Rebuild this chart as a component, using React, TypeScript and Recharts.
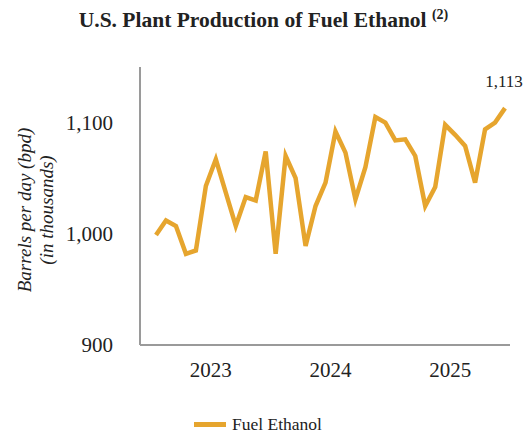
import React from "react";
import { LineChart, Line, XAxis, YAxis, LabelList } from "recharts";

// Monthly U.S. plant production of fuel ethanol, thousand barrels per day
const months: string[] = [
  "Aug 2022", "Sep 2022", "Oct 2022", "Nov 2022", "Dec 2022",
  "Jan 2023", "Feb 2023", "Mar 2023", "Apr 2023", "May 2023", "Jun 2023", "Jul 2023",
  "Aug 2023", "Sep 2023", "Oct 2023", "Nov 2023", "Dec 2023",
  "Jan 2024", "Feb 2024", "Mar 2024", "Apr 2024", "May 2024", "Jun 2024", "Jul 2024",
  "Aug 2024", "Sep 2024", "Oct 2024", "Nov 2024", "Dec 2024",
  "Jan 2025", "Feb 2025", "Mar 2025", "Apr 2025", "May 2025", "Jun 2025", "Jul 2025",
];

const ethanol: number[] = [
  999, 1012, 1007, 982, 985, 1043, 1067, 1037, 1007, 1033, 1030, 1074,
  982, 1070, 1050, 989, 1025, 1046, 1092, 1073, 1031, 1060, 1105, 1100,
  1084, 1085, 1070, 1025, 1042, 1098, 1089, 1079, 1046, 1094, 1100, 1113,
];

const yearTicks: string[] = ["Jan 2023", "Jan 2024", "Jan 2025"];
const yTicks: number[] = [900, 1000, 1100];

const data = months.map((m, i) => ({ month: m, ethanol: ethanol[i] }));

const LINE_COLOR = "#E6A52E";
const AXIS_COLOR = "#9a9a9a";
const FONT = "'Liberation Serif', 'Times New Roman', serif";

const fmt = (v: number) => v.toLocaleString("en-US");

const LastLabel = (props: any) => {
  const { x, y, value, index } = props;
  if (index !== data.length - 1) return null;
  return (
    <text
      x={x - 1}
      y={y - 21}
      textAnchor="middle"
      fontFamily={FONT}
      fontSize={17}
      fill="#222"
    >
      {fmt(value)}
    </text>
  );
};

const YearTick = (props: any) => {
  const { x, y, payload } = props;
  return (
    <text
      x={x + 5}
      y={y}
      dy="0.71em"
      textAnchor="middle"
      fontFamily={FONT}
      fontSize={21}
      fill="#222"
    >
      {String(payload.value).slice(4)}
    </text>
  );
};

export default function App() {
  return (
    <div
      style={{
        position: "absolute",
        left: 0,
        top: 0,
        width: 527,
        height: 437,
        background: "#fff",
        fontFamily: FONT,
      }}
    >
      <div
        style={{
          position: "absolute",
          top: 7,
          left: 0,
          width: 527,
          textAlign: "center",
          fontWeight: "bold",
          fontSize: 21.5,
          color: "#222",
          whiteSpace: "nowrap",
        }}
      >
        U.S. Plant Production of Fuel Ethanol{" "}
        <sup style={{ fontSize: 14 }}>(2)</sup>
      </div>

      <div
        style={{
          position: "absolute",
          left: 36,
          top: 210,
          transform: "translate(-50%, -50%) rotate(-90deg)",
          textAlign: "center",
          fontStyle: "italic",
          fontSize: 19,
          lineHeight: "22px",
          color: "#222",
          whiteSpace: "nowrap",
        }}
      >
        Barrels per day (bpd)
        <br />
        (in thousands)
      </div>

      <LineChart
        width={527}
        height={437}
        data={data}
        margin={{ top: 67, right: 17, bottom: 52, left: 0 }}
        style={{ position: "absolute", left: 0, top: 0 }}
      >
        <XAxis
          dataKey="month"
          ticks={yearTicks}
          interval={0}
          tick={<YearTick />}
          tickLine={false}
          tickSize={0}
          tickMargin={17}
          axisLine={{ stroke: AXIS_COLOR, strokeWidth: 2 }}
          padding={{ left: 16, right: 5 }}
          height={40}
        />
        <YAxis
          domain={[900, 1150]}
          ticks={yTicks}
          width={140}
          tickLine={false}
          tickSize={0}
          tickMargin={27}
          tickFormatter={fmt}
          axisLine={{ stroke: AXIS_COLOR, strokeWidth: 2 }}
          tick={{ fontFamily: FONT, fontSize: 21, fill: "#222" }}
        />
        <Line
          type="linear"
          dataKey="ethanol"
          stroke={LINE_COLOR}
          strokeWidth={4.5}
          strokeLinejoin="miter"
          dot={false}
          activeDot={false}
          isAnimationActive={false}
        >
          <LabelList dataKey="ethanol" content={<LastLabel />} />
        </Line>
      </LineChart>

      <div
        style={{
          position: "absolute",
          top: 414,
          left: 194,
          display: "flex",
          alignItems: "center",
          fontSize: 17.5,
          color: "#222",
          whiteSpace: "nowrap",
        }}
      >
        <span
          style={{
            display: "inline-block",
            width: 32,
            height: 5,
            background: LINE_COLOR,
            marginRight: 6,
          }}
        />
        Fuel Ethanol
      </div>
    </div>
  );
}
